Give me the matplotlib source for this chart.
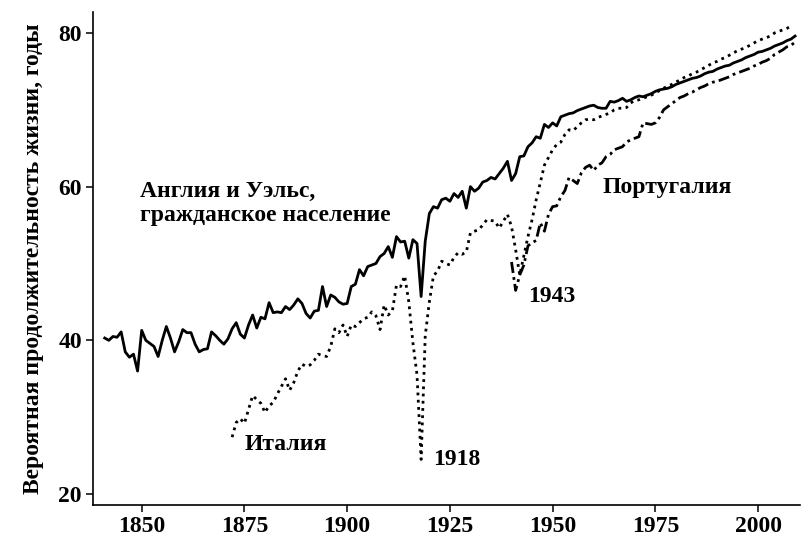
import numpy as np
import matplotlib
matplotlib.use("Agg")
import matplotlib.pyplot as plt

# England & Wales, civilian population (1841-2009)
ew_years = list(range(1841, 2010))
ew_values = [
    40.3, 40.0, 40.5, 40.4, 41.1, 38.5, 37.8, 38.2, 36.0, 41.3,  # 1841-1850
    40.0, 39.6, 39.2, 37.9, 40.0, 41.8, 40.3, 38.5, 39.8, 41.4,  # 1851-1860
    41.0, 41.0, 39.5, 38.5, 38.8, 38.9, 41.1, 40.6, 40.0, 39.5,  # 1861-1870
    40.2, 41.5, 42.3, 40.8, 40.3, 42.0, 43.3, 41.6, 43.0, 42.8,  # 1871-1880
    44.9, 43.6, 43.7, 43.6, 44.4, 44.0, 44.6, 45.4, 44.8, 43.5,  # 1881-1890
    42.9, 43.8, 43.9, 47.0, 44.4, 45.9, 45.6, 45.0, 44.7, 44.8,  # 1891-1900
    47.0, 47.3, 49.2, 48.4, 49.6, 49.8, 50.0, 50.9, 51.3, 52.2,  # 1901-1910
    50.8, 53.5, 52.8, 52.9, 50.7, 53.1, 52.6, 45.7, 52.9, 56.5,  # 1911-1920
    57.4, 57.2, 58.3, 58.5, 58.1, 59.1, 58.6, 59.4, 57.2, 60.0,  # 1921-1930
    59.4, 59.8, 60.6, 60.8, 61.2, 61.0, 61.7, 62.4, 63.3, 60.8,  # 1931-1940
    61.7, 63.9, 64.0, 65.2, 65.7, 66.5, 66.3, 68.1, 67.7, 68.3,  # 1941-1950
    67.9, 69.1, 69.3, 69.5, 69.6, 69.9, 70.1, 70.3, 70.5, 70.6,  # 1951-1960
    70.3, 70.2, 70.2, 71.1, 71.0, 71.2, 71.5, 71.1, 71.3, 71.6,  # 1961-1970
    71.8, 71.7, 71.9, 72.1, 72.4, 72.6, 72.7, 72.8, 73.0, 73.3,  # 1971-1980
    73.5, 73.7, 73.9, 74.1, 74.2, 74.4, 74.7, 74.9, 75.0, 75.3,  # 1981-1990
    75.5, 75.7, 75.8, 76.1, 76.3, 76.5, 76.8, 77.0, 77.2, 77.5,  # 1991-2000
    77.6, 77.8, 78.0, 78.3, 78.5, 78.7, 79.0, 79.2, 79.6,        # 2001-2009
]

# Italy (1872-2008)
it_years = list(range(1872, 2009))
it_values = [
    27.4, 29.3, 29.8, 29.2, 31.0, 32.8, 32.3, 31.8, 30.6,        # 1872-1880
    31.5, 31.9, 33.0, 34.0, 35.0, 33.5, 34.5, 36.0, 36.9, 36.6,  # 1881-1890
    36.8, 37.4, 38.2, 38.0, 37.9, 39.2, 41.5, 41.0, 42.0, 40.5,  # 1891-1900
    42.0, 41.8, 42.3, 42.8, 43.0, 43.7, 43.2, 41.4, 44.6, 43.3,  # 1901-1910
    43.8, 47.2, 47.0, 48.4, 45.0, 39.7, 35.5, 24.5, 40.6, 45.0,  # 1911-1920
    48.4, 49.0, 50.3, 50.0, 49.8, 50.8, 51.4, 51.2, 51.5, 54.0,  # 1921-1930
    54.2, 54.4, 55.0, 55.7, 55.6, 55.5, 54.6, 55.5, 56.4, 54.8,  # 1931-1940
    51.8, 48.5, 51.0, 53.5, 55.7, 58.3, 60.5, 62.8, 63.8, 64.8,  # 1941-1950
    65.5, 65.8, 66.8, 67.4, 67.3, 67.8, 68.3, 68.7, 68.8, 68.7,  # 1951-1960
    69.0, 69.2, 69.4, 69.6, 70.0, 70.2, 70.2, 70.3, 70.9, 71.2,  # 1961-1970
    71.3, 71.5, 71.7, 71.9, 72.2, 72.5, 72.8, 73.1, 73.3, 73.6,  # 1971-1980
    73.9, 74.2, 74.4, 74.7, 74.9, 75.2, 75.5, 75.8, 76.1, 76.3,  # 1981-1990
    76.6, 76.8, 77.1, 77.4, 77.7, 77.9, 78.1, 78.4, 78.7, 79.0,  # 1991-2000
    79.2, 79.4, 79.6, 80.0, 80.2, 80.4, 80.6, 80.9,              # 2001-2008
]

# Portugal (1940-2009)
pt_years = list(range(1940, 2010))
pt_values = [
    50.2, 46.5, 48.5, 49.8, 52.3, 52.7, 53.0, 55.3, 54.2, 56.4,  # 1940-1949
    57.4, 57.5, 58.7, 59.5, 61.2, 60.8, 60.4, 61.8, 62.5, 62.8,  # 1950-1959
    62.1, 62.8, 63.1, 63.9, 64.2, 64.8, 65.0, 65.2, 65.8, 66.1,  # 1960-1969
    66.3, 66.5, 68.3, 68.2, 68.1, 68.3, 69.0, 70.0, 70.4, 70.8,  # 1970-1979
    71.2, 71.6, 71.8, 72.1, 72.3, 72.6, 72.9, 73.1, 73.4, 73.6,  # 1980-1989
    73.7, 73.9, 74.1, 74.3, 74.6, 74.8, 75.0, 75.2, 75.4, 75.7,  # 1990-1999
    75.9, 76.2, 76.4, 76.7, 77.2, 77.5, 77.8, 78.2, 78.4, 78.8,  # 2000-2009
]

x_ticks = [1850, 1875, 1900, 1925, 1950, 1975, 2000]
y_ticks = [20, 40, 60, 80]
y_label = "Вероятная продолжительность жизни, годы"
labels = [
    ("Англия и Уэльс,", 1849.6, 58.7),
    ("гражданское население", 1849.6, 55.5),
    ("Италия", 1875.1, 25.7),
    ("1918", 1920.9, 23.8),
    ("1943", 1944.0, 45.0),
    ("Португалия", 1962.2, 59.2),
]

plt.rcParams['font.family'] = ['Liberation Serif', 'DejaVu Serif']
plt.rcParams['font.weight'] = 'bold'

fig = plt.figure(figsize=(8.05, 5.37), dpi=100)
ax = fig.add_axes([93 / 805, 32 / 537, 707 / 805, 493 / 537])

ax.plot(ew_years, ew_values, color='black', lw=2.0, ls='-', solid_joinstyle='round')
ax.plot(it_years, it_values, color='black', lw=2.0, ls=(0, (1, 1.6)))
ax.plot(pt_years, pt_values, color='black', lw=2.0, ls=(0, (4, 1.5, 1, 1.5)))

ax.set_xlim(1838.15, 2010.2)
ax.set_ylim(18.57, 82.73)
ax.set_xticks(x_ticks)
ax.set_yticks(y_ticks)
ax.tick_params(axis='both', direction='out', length=5, width=1.1, labelsize=17, pad=3)
for lab in ax.get_xticklabels() + ax.get_yticklabels():
    lab.set_fontweight('bold')
ax.spines['top'].set_visible(False)
ax.spines['right'].set_visible(False)
ax.spines['left'].set_linewidth(1.2)
ax.spines['bottom'].set_linewidth(1.2)
ax.set_ylabel(y_label, fontsize=17, fontweight='bold', labelpad=10)

for text, xx, yy in labels:
    ax.text(xx, yy, text, fontsize=17, fontweight='bold', ha='left', va='baseline')

fig.savefig('out.png', dpi=100)
